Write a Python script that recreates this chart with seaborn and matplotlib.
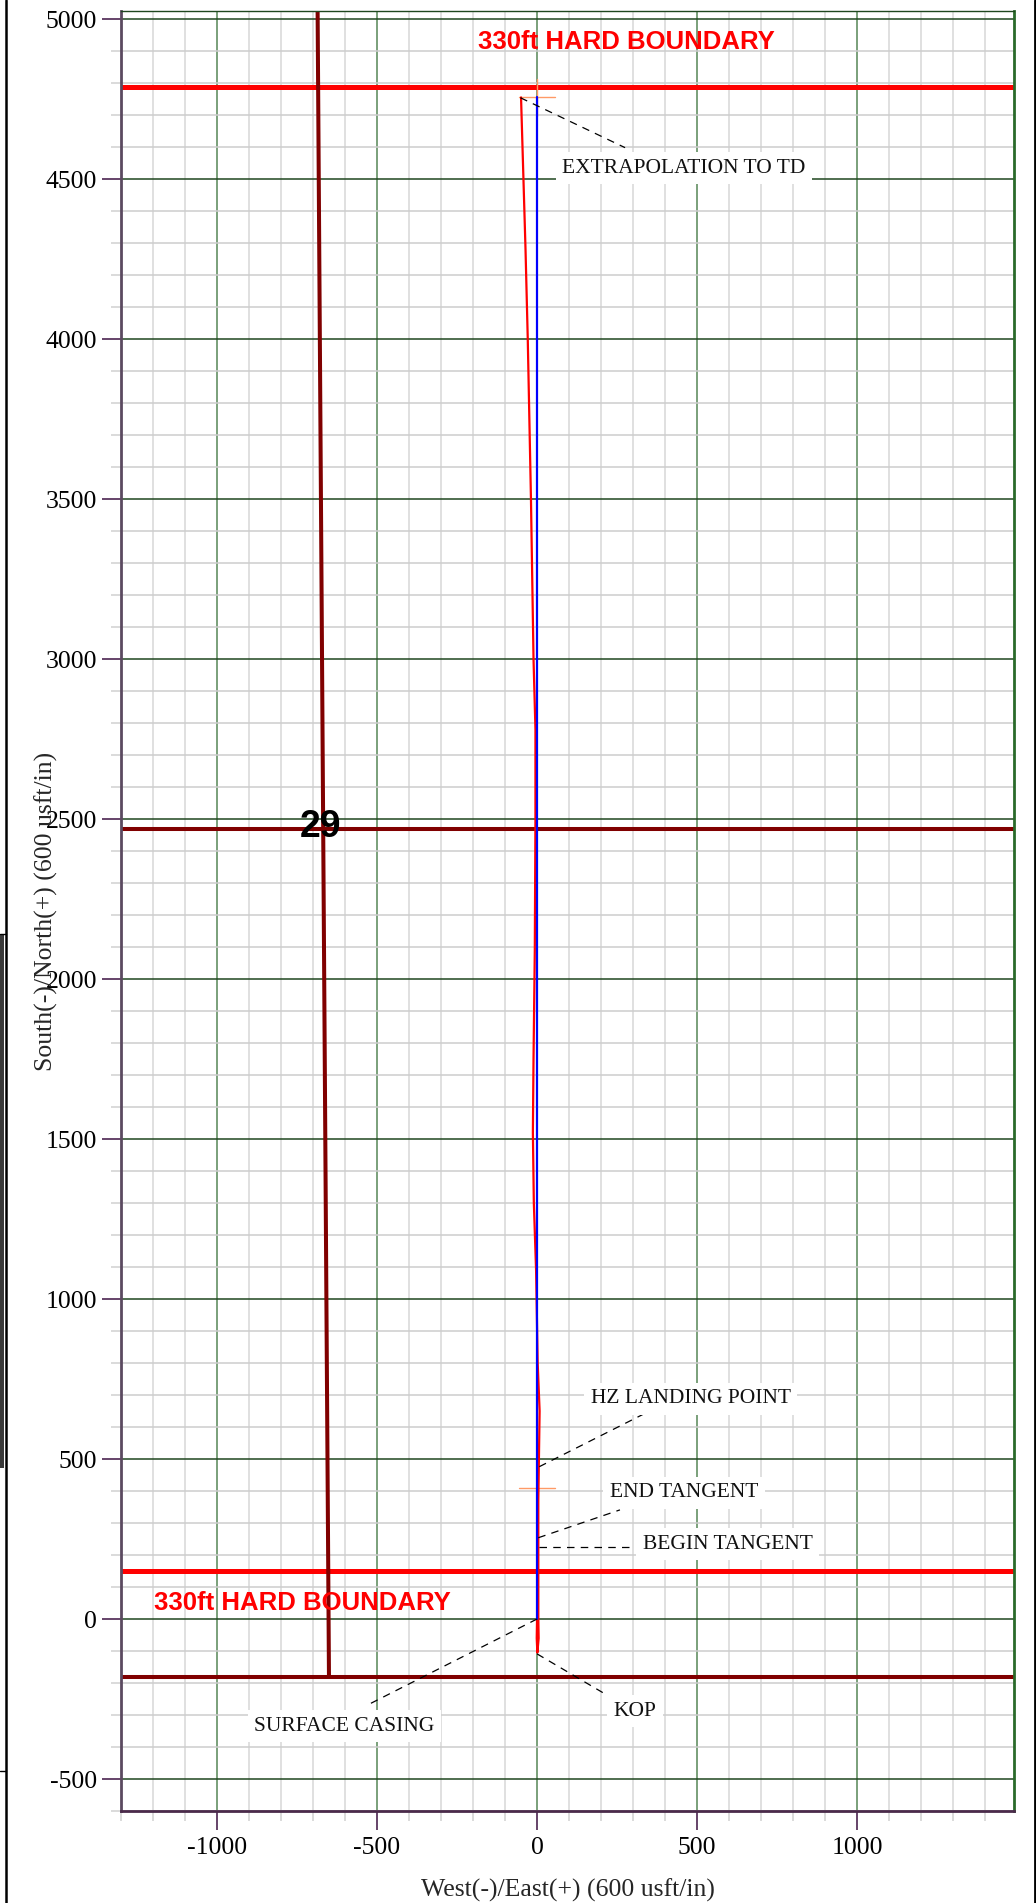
import numpy as np
import pandas as pd
import matplotlib
matplotlib.use("Agg")
import matplotlib.pyplot as plt
import seaborn as sns
from matplotlib.ticker import MultipleLocator, FixedLocator
from matplotlib.lines import Line2D
from matplotlib.patches import Rectangle

# ---------------- data ----------------
# actual (surveyed) wellbore, West(-)/East(+) and South(-)/North(+)
actual_east = [0, -1, 1, 5, 4, 4, 4, 4, 6, 8, 2, -3, -10, -13, -11, -7, -5, -5, -11, -19, -29, -36, -50]
actual_north = [0, -60, -105, -60, 0, 100, 225, 370, 510, 650, 800, 1090, 1300, 1520, 1750, 2090, 2500, 2780, 3000, 3500, 4000, 4280, 4755]
# planned wellbore
plan_east = [0, 0]
plan_north = [0, 4755]
# section lines (dark red)
section_v_east = [-686, -650]
section_v_north = [5100, -180]
section_h_north = [2470, -180]
# 330ft hard boundaries (red)
boundary_north = [4786, 150]
# targets (orange crosses)
target_east = [0, 0]
target_north = [4755, 410]
target_half = 57
# annotations
ann_labels = ["EXTRAPOLATION TO TD", "HZ LANDING POINT", "END TANGENT",
              "BEGIN TANGENT", "SURFACE CASING", "KOP"]
ann_point = [(-52, 4754), (7, 476), (4, 254), (7, 226), (0, 0), (0, -109)]
boundary_label = "330ft HARD BOUNDARY"
section_label = "29"
x_ticks = [-1000, -500, 0, 500, 1000]
y_ticks = [-500, 0, 500, 1000, 1500, 2000, 2500, 3000, 3500, 4000, 4500, 5000]
x_label = "West(-)/East(+) (600 usft/in)"
y_label = "South(-)/North(+) (600 usft/in)"

# ---------------- layout ----------------
ann_leader_end = [(275, 4598), (332, 640), (259, 341), (306, 226), (-534, -271), (224, -241)]
ann_text_pos = [(458, 4534), (480, 688), (459, 394), (595, 234), (-602, -335), (306, -288)]
boundary_text_pos = [(280, 4928), (-733, 50)]
section_text_pos = (-678, 2476)

sns.set_style("white")
plt.rcParams['font.family'] = ['Liberation Serif', 'DejaVu Serif']
plt.rcParams['axes.unicode_minus'] = False

fig = plt.figure(figsize=(10.36, 19.03), dpi=100)
ax = fig.add_axes([0.11670, 0.04834, 0.86207, 0.94587])

ax.set_xlim(-1300, 1490)
ax.set_ylim(-600, 5025)

# grid
ax.xaxis.set_major_locator(FixedLocator(x_ticks))
ax.yaxis.set_major_locator(FixedLocator(y_ticks))
ax.xaxis.set_minor_locator(MultipleLocator(100))
ax.yaxis.set_minor_locator(MultipleLocator(100))
ax.set_axisbelow(True)
ax.xaxis.grid(True, which='minor', color='#e0e0e0', lw=1.4, zorder=0)
ax.yaxis.grid(True, which='minor', color='#cdcdcd', lw=1.1, zorder=0)
ax.xaxis.grid(True, which='major', color='#7aa07a', lw=1.4, zorder=0.5)
ax.yaxis.grid(True, which='major', color='#1f471f', lw=1.1, zorder=0.5)

ax.set_xticklabels([str(v) for v in x_ticks])
ax.set_yticklabels([str(v) for v in y_ticks])
ax.tick_params(axis='both', which='major', direction='out', length=13.5, width=1.2,
               color='#4b2450', labelsize=18.5, labelcolor='black')
ax.tick_params(axis='y', which='major', pad=3.6)
ax.tick_params(axis='x', which='major', pad=5.5)
ax.tick_params(axis='both', which='minor', direction='out', length=7, width=1.2,
               color='#d4d4d4')
ax.tick_params(left=True, bottom=True, which='both')

for side, col, lw in [('left', '#5b4a60', 2.0), ('bottom', '#4a2a4a', 2.0),
                      ('top', '#1f471f', 1.0), ('right', '#2a6a2a', 2.0)]:
    ax.spines[side].set_visible(True)
    ax.spines[side].set_color(col)
    ax.spines[side].set_linewidth(lw)

# boundary & section lines
xmin, xmax = ax.get_xlim()
for n in boundary_north:
    ax.plot([xmin, xmax], [n, n], color='#ff0000', lw=3.6, zorder=2, solid_capstyle='butt')
for n in section_h_north:
    ax.plot([xmin, xmax], [n, n], color='#800000', lw=2.9, zorder=2.1, solid_capstyle='butt')
ax.plot(section_v_east, section_v_north, color='#800000', lw=2.9, zorder=2.1, solid_capstyle='butt')

# target crosses
for e, n in zip(target_east, target_north):
    ax.plot([e - target_half, e + target_half], [n, n], color='#ff9a66', lw=1.0, zorder=2.5)
    ax.plot([e, e], [n - target_half, n + target_half], color='#ff9a66', lw=1.0, zorder=2.5)

# well paths
df_act = pd.DataFrame({'east': actual_east, 'north': actual_north})
df_plan = pd.DataFrame({'east': plan_east, 'north': plan_north})
sns.lineplot(data=df_act, x='east', y='north', sort=False, estimator=None,
             color='#ff0000', lw=1.6, ax=ax, zorder=3)
sns.lineplot(data=df_plan, x='east', y='north', sort=False, estimator=None,
             color='#0000ff', lw=1.6, ax=ax, zorder=3.2)

ax.set_xlabel(x_label, fontsize=18.5, labelpad=14)
ax.set_ylabel(y_label, fontsize=18.5)
ax.yaxis.set_label_coords(-0.0705, 0.5)

# annotations
for lab, p, le, tp in zip(ann_labels, ann_point, ann_leader_end, ann_text_pos):
    ax.plot([p[0], le[0]], [p[1], le[1]], color='black', lw=0.9,
            linestyle=(0, (6, 5)), zorder=4)
    ax.text(tp[0], tp[1], lab, fontsize=15.5, ha='center', va='center',
            color='#111111', zorder=5,
            bbox=dict(boxstyle='square,pad=0.3', fc='white', ec='none'))

for tp in boundary_text_pos:
    ax.text(tp[0], tp[1], boundary_label, fontsize=18.5, fontweight='bold',
            family=['Liberation Sans', 'DejaVu Sans'], color='#ff0000',
            ha='center', va='center', zorder=5)

ax.text(section_text_pos[0], section_text_pos[1], section_label, fontsize=27,
        fontweight='bold', family=['Liberation Sans', 'DejaVu Sans'],
        color='black', ha='center', va='center', zorder=5)

# page borders / fragment of neighbouring sheet
fig.add_artist(Line2D([6 / 1036, 6 / 1036], [0, 1], transform=fig.transFigure,
                      color='black', lw=1.8))
fig.add_artist(Line2D([1034.5 / 1036, 1034.5 / 1036], [0, 1], transform=fig.transFigure,
                      color='black', lw=2.0))
fig.add_artist(Rectangle((0, 1 - 1468 / 1903), 4 / 1036, (1468 - 934) / 1903,
                         transform=fig.transFigure, fc='#3a3a3a', ec='none'))
fig.add_artist(Line2D([0, 6 / 1036], [1 - 934 / 1903, 1 - 934 / 1903],
                      transform=fig.transFigure, color='black', lw=1.0))
fig.add_artist(Line2D([0, 6 / 1036], [1 - 1771 / 1903, 1 - 1771 / 1903],
                      transform=fig.transFigure, color='black', lw=1.0))

fig.savefig("out.png", dpi=100)
